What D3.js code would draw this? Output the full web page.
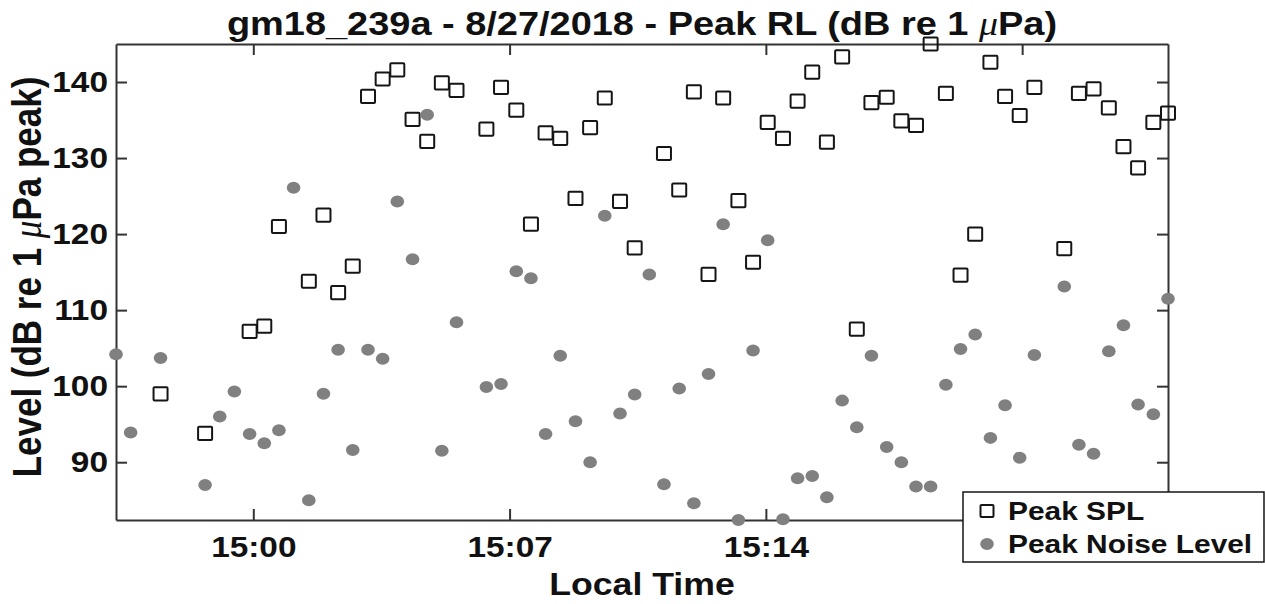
<!DOCTYPE html>
<html>
<head>
<meta charset="utf-8">
<script src="https://cdn.jsdelivr.net/npm/d3@7"></script>
<style>
  body { margin: 0; background: #fff; }
  svg { display: block; font-family: 'Liberation Sans', Arial, Helvetica, sans-serif; font-weight: bold; }
  .axis path, .axis line { stroke: #333; stroke-width: 2; }
  .axis text { fill: #111; }
</style>
</head>
<body>
<div id="chart"></div>
<script>
var timeLabels = [
  '14:56:15', '14:56:39', '14:57:28', '14:58:41', '14:59:05', '14:59:29', '14:59:54',
  '15:00:18', '15:00:42', '15:01:06', '15:01:31', '15:01:55', '15:02:19', '15:02:43',
  '15:03:08', '15:03:32', '15:03:56', '15:04:21', '15:04:45', '15:05:09', '15:05:33',
  '15:06:22', '15:06:46', '15:07:11', '15:07:35', '15:07:59', '15:08:23', '15:08:48',
  '15:09:12', '15:09:36', '15:10:01', '15:10:25', '15:10:49', '15:11:13', '15:11:38',
  '15:12:02', '15:12:26', '15:12:50', '15:13:15', '15:13:39', '15:14:03', '15:14:28',
  '15:14:52', '15:15:16', '15:15:40', '15:16:05', '15:16:29', '15:16:53', '15:17:18',
  '15:17:42', '15:18:06', '15:18:30', '15:18:55', '15:19:19', '15:19:43', '15:20:08',
  '15:20:32', '15:20:56', '15:21:20', '15:22:09', '15:22:33', '15:22:57', '15:23:22',
  '15:23:46', '15:24:10', '15:24:35', '15:24:59'
]
var peakSpl = [
  null, null, 99.0, 93.8, null, null, 107.2,
  107.9, 121.0, null, 113.8, 122.5, 112.3, 115.8,
  138.1, 140.4, 141.6, 135.1, 132.2, 139.9, 138.9,
  133.8, 139.3, 136.3, 121.3, 133.3, 132.6, 124.7,
  134.0, 137.9, 124.3, 118.2, null, 130.6, 125.8,
  138.7, 114.7, 137.9, 124.4, 116.3, 134.7, 132.6,
  137.5, 141.3, 132.1, 143.3, 107.5, 137.3, 138.0,
  134.9, 134.3, 145.0, 138.5, 114.6, 120.0, 142.6,
  138.1, 135.6, 139.3, 118.1, 138.5, 139.1, 136.6,
  131.5, 128.7, 134.7, 135.9
]
var peakNoise = [
  104.2, 93.9, 103.7, 87.0, 96.0, 99.3, 93.7,
  92.5, 94.2, 126.1, 85.0, 99.0, 104.8, 91.6,
  104.8, 103.6, 124.3, 116.7, 135.7, 91.5, 108.4,
  99.9, 100.3, 115.1, 114.2, 93.7, 104.0, 95.4,
  90.0, 122.4, 96.4, 98.9, 114.7, 87.1, 99.7,
  84.6, 101.6, 121.3, 82.4, 104.7, 119.2, 82.5,
  87.9, 88.2, 85.4, 98.1, 94.6, 104.0, 92.0,
  90.0, 86.8, 86.8, 100.2, 104.9, 106.8, 93.2,
  97.5, 90.6, 104.1, 113.1, 92.3, 91.1, 104.6,
  108.0, 97.6, 96.3, 111.5
]
var xTickLabels = ['15:00', '15:07', '15:14', '15:21']
var yTickValues = [90, 100, 110, 120, 130, 140]
var legendLabels = ['Peak SPL', 'Peak Noise Level']

;(function (d3) {
  var options = {
    width: 1265,
    height: 604,
    margin: { top: 44, right: 97, bottom: 84, left: 116 },
    stretch: 1.15,
    title: 'gm18_239a - 8/27/2018 - Peak RL (dB re 1 ',
    xLabel: 'Local Time'
  }

  function ScatterChart (ele, options) {
    this.options = options
    var margin = options.margin
    this.svg = d3.select(ele)
      .append('svg')
      .attr('width', options.width)
      .attr('height', options.height)
    this.width = options.width - margin.left - margin.right
    this.height = options.height - margin.top - margin.bottom

    var parseTime = d3.timeParse('%H:%M:%S')
    this.times = timeLabels.map(parseTime)
    this.xScale = d3.scaleTime()
      .domain(d3.extent(this.times))
      .range([0, this.width])
    this.yScale = d3.scaleLinear()
      .domain(d3.extent(peakSpl.concat(peakNoise)))
      .range([this.height, 0])
  }

  ScatterChart.prototype.render = function render () {
    var margin = this.options.margin
    this.g = this.svg.append('g')
      .attr('transform', 'translate(' + margin.left + ',' + margin.top + ')')
    this.drawAxes()
    this.drawPoints()
    this.addLabels()
    this.addLegend()
    return this
  }

  ScatterChart.prototype.drawAxes = function drawAxes () {
    var k = this.options.stretch
    var parseTick = d3.timeParse('%H:%M')
    var xTicks = xTickLabels.map(parseTick)

    // ticks point inward, box closed on all four sides
    var bottom = d3.axisBottom(this.xScale).tickValues(xTicks)
      .tickFormat(d3.timeFormat('%H:%M')).tickSizeInner(-11).tickSizeOuter(0).tickPadding(16)
    var top = d3.axisTop(this.xScale).tickValues(xTicks)
      .tickFormat('').tickSizeInner(-11).tickSizeOuter(0)
    var left = d3.axisLeft(this.yScale).tickValues(yTickValues)
      .tickSizeInner(-11).tickSizeOuter(0).tickPadding(7)
    var right = d3.axisRight(this.yScale).tickValues(yTickValues)
      .tickFormat('').tickSizeInner(-11).tickSizeOuter(0)

    this.gx = this.g.append('g').classed('axis', true)
      .attr('transform', 'translate(0,' + this.height + ')')
      .call(bottom)
    this.gx.selectAll('.tick text')
      .attr('font-size', 29)
      .attr('transform', 'scale(' + k + ',1)')

    this.g.append('g').classed('axis', true).call(top)

    var gy = this.g.append('g').classed('axis', true).call(left)
    gy.selectAll('.tick text')
      .attr('font-size', 29)
      .attr('transform', 'scale(' + k + ',1)')

    this.g.append('g').classed('axis', true)
      .attr('transform', 'translate(' + this.width + ',0)')
      .call(right)

    this.g.selectAll('.axis text').attr('font-family', null).attr('font-weight', 'bold')
  }

  ScatterChart.prototype.drawPoints = function drawPoints () {
    var _this = this
    var spl = this.times.map(function (t, i) { return { t: t, v: peakSpl[i] } })
      .filter(function (d) { return d.v != null })
    var noise = this.times.map(function (t, i) { return { t: t, v: peakNoise[i] } })
      .filter(function (d) { return d.v != null })

    this.g.append('g')
      .selectAll('rect')
      .data(spl)
      .enter()
      .append('rect')
      .attr('x', function (d) { return _this.xScale(d.t) - 7 })
      .attr('y', function (d) { return _this.yScale(d.v) - 6.6 })
      .attr('width', 14)
      .attr('height', 13.2)
      .attr('rx', 1)
      .attr('fill', 'none')
      .attr('stroke', '#151515')
      .attr('stroke-width', 2)

    this.g.append('g')
      .selectAll('ellipse')
      .data(noise)
      .enter()
      .append('ellipse')
      .attr('cx', function (d) { return _this.xScale(d.t) })
      .attr('cy', function (d) { return _this.yScale(d.v) })
      .attr('rx', 6.8)
      .attr('ry', 6)
      .attr('fill', '#808080')
  }

  ScatterChart.prototype.addLabels = function addLabels () {
    var margin = this.options.margin
    var k = this.options.stretch
    var cx = margin.left + this.width / 2

    var title = this.svg.append('text')
      .attr('text-anchor', 'middle')
      .attr('font-size', 33)
      .attr('fill', '#111')
      .attr('transform', 'translate(' + cx + ',35) scale(' + k + ',1)')
    title.append('tspan').text(this.options.title)
    title.append('tspan').attr('font-family', "'Liberation Serif', serif")
      .attr('font-style', 'italic').attr('font-weight', 'normal').text('\u03bc')
    title.append('tspan').text('Pa)')

    this.svg.append('text')
      .attr('text-anchor', 'middle')
      .attr('font-size', 31)
      .attr('fill', '#111')
      .attr('transform', 'translate(' + cx + ',595) scale(' + k + ',1)')
      .text(this.options.xLabel)

    var yl = this.svg.append('text')
      .attr('text-anchor', 'middle')
      .attr('font-size', 35)
      .attr('fill', '#111')
      .attr('transform', 'translate(41,' + (margin.top + this.height / 2 - 5) + ') scale(' + k + ',1) rotate(-90)')
    yl.append('tspan').text('Level (dB re 1 ')
    yl.append('tspan').attr('font-family', "'Liberation Serif', serif")
      .attr('font-style', 'italic').attr('font-weight', 'normal').text('\u03bc')
    yl.append('tspan').text('Pa peak)')
  }

  ScatterChart.prototype.addLegend = function addLegend () {
    var k = this.options.stretch
    var box = { x: 963, y: 492, w: 301, h: 70 }
    var lg = this.svg.append('g').attr('transform', 'translate(' + box.x + ',' + box.y + ')')
    lg.append('rect')
      .attr('width', box.w)
      .attr('height', box.h)
      .attr('fill', '#fff')
      .attr('stroke', '#151515')
      .attr('stroke-width', 1.5)

    lg.append('rect')
      .attr('x', 24 - 6.5).attr('y', 19 - 6)
      .attr('width', 13).attr('height', 12).attr('rx', 1)
      .attr('fill', 'none').attr('stroke', '#151515').attr('stroke-width', 2)
    lg.append('ellipse')
      .attr('cx', 24).attr('cy', 52)
      .attr('rx', 6.8).attr('ry', 6)
      .attr('fill', '#808080')

    lg.selectAll('text.item')
      .data(legendLabels)
      .enter()
      .append('text')
      .classed('item', true)
      .attr('font-size', 26)
      .attr('fill', '#111')
      .attr('transform', function (d, i) {
        return 'translate(45,' + (28 + i * 33) + ') scale(' + k + ',1)'
      })
      .text(function (d) { return d })

    // tick labels that sit under the legend box are not shown
    this.gx.selectAll('.tick text').each(function () {
      var r = this.getBoundingClientRect()
      if (r.right > box.x && r.left < box.x + box.w && r.bottom > box.y && r.top < box.y + box.h) {
        d3.select(this).remove()
      }
    })
  }

  var chart = new ScatterChart(document.getElementById('chart'), options)
  chart.render()
})(d3)
</script>
</body>
</html>
